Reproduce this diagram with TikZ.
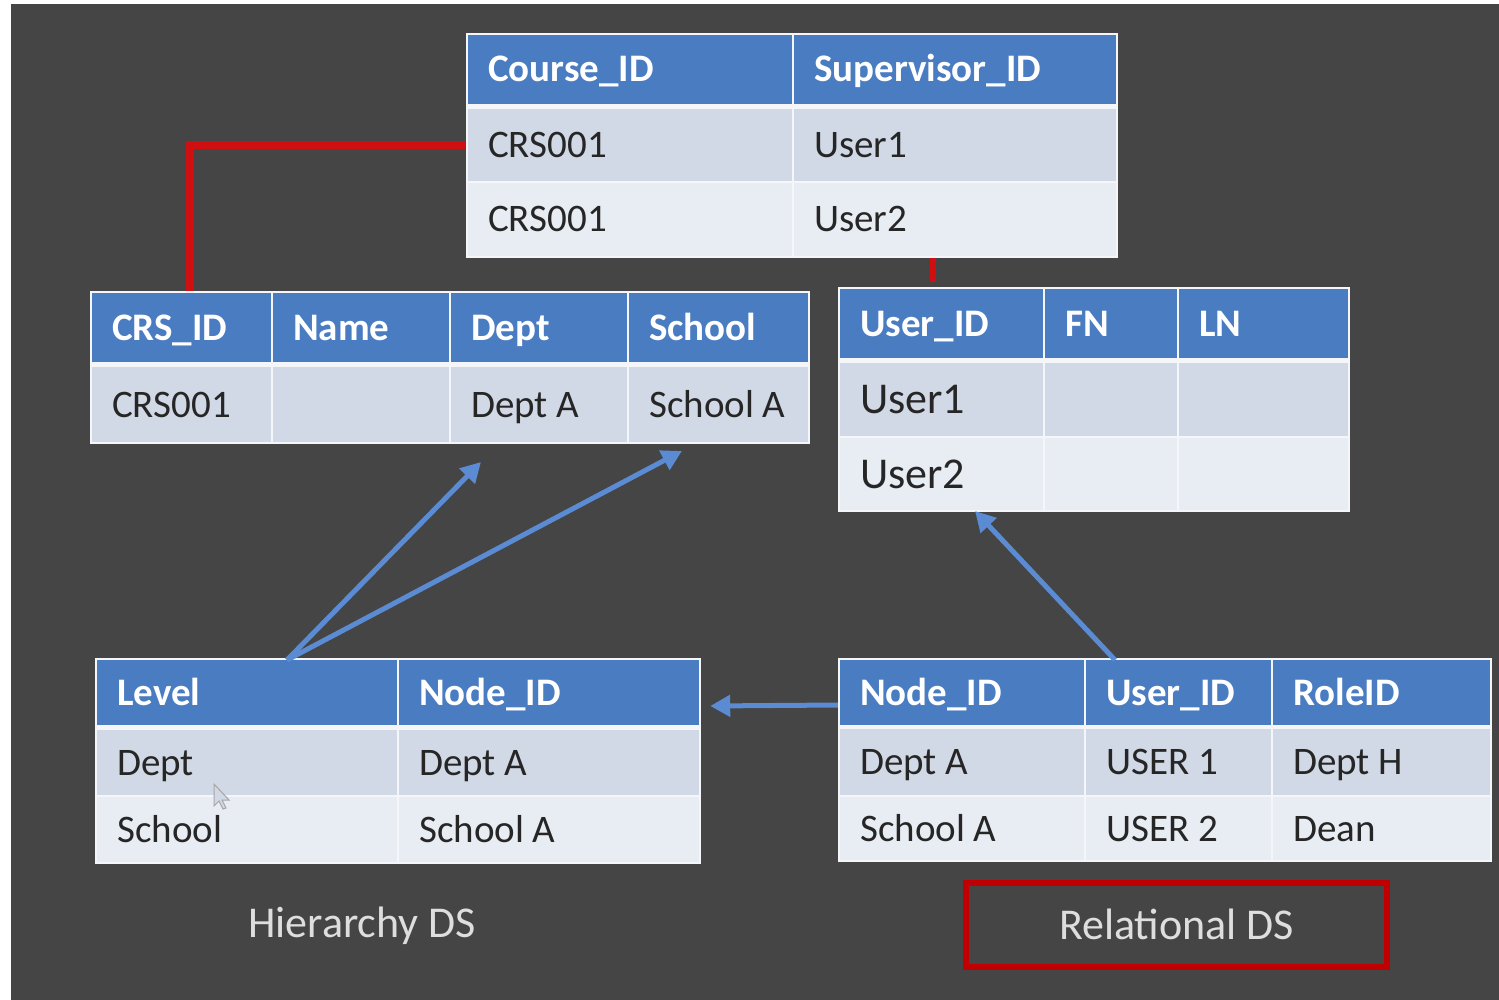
\documentclass[tikz,border=0pt]{standalone}
\usepackage{fontspec}
\setmainfont{Carlito}
\usetikzlibrary{arrows.meta,calc}
\definecolor{bg}{HTML}{444544}
\definecolor{hdr}{HTML}{4A7CC1}
\definecolor{rowa}{HTML}{D2D9E6}
\definecolor{rowb}{HTML}{E8ECF3}
\definecolor{arrblue}{HTML}{5A8BD3}
\definecolor{lnred}{HTML}{D01010}
\definecolor{boxred}{HTML}{C00000}
\definecolor{tblback}{HTML}{F4F6FA}
\newcommand\cell[8]{%
  \fill[#1] (#4,#6) rectangle (#5,#7);
  \node[#2] (#3) at ({#4+20},{(#6+#7)/2}) {#8};}
\begin{document}
\begin{tikzpicture}[x=1pt,y=-1pt,
  hd/.style={fill=hdr}, ra/.style={fill=rowa}, rb/.style={fill=rowb},
  htxt/.style={anchor=west, inner sep=0pt, text=white, font=\fontsize{39}{44}\selectfont\bfseries, text height=30pt, text depth=5pt},
  btxt/.style={anchor=west, inner sep=0pt, text=black!85, font=\fontsize{39}{44}\selectfont, text height=30pt, text depth=5pt},
  btxtL/.style={anchor=west, inner sep=0pt, text=black!85, font=\fontsize{44}{50}\selectfont, text height=33pt, text depth=5pt},
  tbl/.style={fill=tblback, inner sep=0pt, draw=none},
  blarrow/.style={draw=arrblue, line width=5pt, -{Triangle[length=20pt,width=21pt]}},
  redln/.style={draw=lnred, line width=8pt},
  redtick/.style={draw=lnred, line width=6pt},
  lbl/.style={text=white!87!black, font=\fontsize{44}{50}\selectfont, text height=33pt, text depth=5pt, inner sep=0pt}
]
\useasboundingbox (0,0) rectangle (1499,1000);
\fill[white] (0,0) rectangle (1499,1000);
\fill[bg] (11,4) rectangle (1499,1000);

% Course table
\node[tbl, minimum width=652pt, minimum height=225pt] (course) at (792,145.5) {};
\cell{hd}{htxt}{h11}{468}{792}{35}{104}{Course\_ID}
\cell{hd}{htxt}{h12}{794}{1116}{35}{104}{Supervisor\_ID}
\cell{ra}{btxt}{c11}{468}{792}{109}{181}{CRS001}
\cell{ra}{btxt}{c12}{794}{1116}{109}{181}{User1}
\cell{rb}{btxt}{c21}{468}{792}{183}{256}{CRS001}
\cell{rb}{btxt}{c22}{794}{1116}{183}{256}{User2}

% CRS table
\node[tbl, minimum width=720pt, minimum height=153pt] (crs) at (450,367.5) {};
\cell{hd}{htxt}{h21}{92}{271}{293}{362}{CRS\_ID}
\cell{hd}{htxt}{h22}{273}{449}{293}{362}{Name}
\cell{hd}{htxt}{h23}{451}{627}{293}{362}{Dept}
\cell{hd}{htxt}{h24}{629}{808}{293}{362}{School}
\cell{ra}{btxt}{d21}{92}{271}{367}{442}{CRS001}
\cell{ra}{btxt}{d22}{273}{449}{367}{442}{}
\cell{ra}{btxt}{d23}{451}{627}{367}{442}{Dept A}
\cell{ra}{btxt}{d24}{629}{808}{367}{442}{School A}

% User table
\node[tbl, minimum width=512pt, minimum height=225pt] (usr) at (1094,399.5) {};
\cell{hd}{htxt}{h31}{840}{1043}{289}{358}{User\_ID}
\cell{hd}{htxt}{h32}{1045}{1177}{289}{358}{FN}
\cell{hd}{htxt}{h33}{1179}{1348}{289}{358}{LN}
\cell{ra}{btxtL}{u11}{840}{1043}{363}{436}{User1}
\cell{ra}{btxtL}{u12}{1045}{1177}{363}{436}{}
\cell{ra}{btxtL}{u13}{1179}{1348}{363}{436}{}
\cell{rb}{btxtL}{u21}{840}{1043}{438}{510}{User2}
\cell{rb}{btxtL}{u22}{1045}{1177}{438}{510}{}
\cell{rb}{btxtL}{u23}{1179}{1348}{438}{510}{}

% Level table
\node[tbl, minimum width=606pt, minimum height=206pt] (lvl) at (398,761) {};
\cell{hd}{htxt}{h41}{97}{397}{660}{725}{Level}
\cell{hd}{htxt}{h42}{399}{699}{660}{725}{Node\_ID}
\cell{ra}{btxt}{l11}{97}{397}{730}{795}{Dept}
\cell{ra}{btxt}{l12}{399}{699}{730}{795}{Dept A}
\cell{rb}{btxt}{l21}{97}{397}{797}{862}{School}
\cell{rb}{btxt}{l22}{399}{699}{797}{862}{School A}

% Node table
\node[tbl, minimum width=654pt, minimum height=204pt] (nid) at (1165,760) {};
\cell{hd}{htxt}{h51}{840}{1084}{660}{725}{Node\_ID}
\cell{hd}{htxt}{h52}{1086}{1271}{660}{725}{User\_ID}
\cell{hd}{htxt}{h53}{1273}{1490}{660}{725}{RoleID}
\cell{ra}{btxt}{n11}{840}{1084}{729}{795}{Dept A}
\cell{ra}{btxt}{n12}{1086}{1271}{729}{795}{USER 1}
\cell{ra}{btxt}{n13}{1273}{1490}{729}{795}{Dept H}
\cell{rb}{btxt}{n21}{840}{1084}{797}{860}{School A}
\cell{rb}{btxt}{n22}{1086}{1271}{797}{860}{USER 2}
\cell{rb}{btxt}{n23}{1273}{1490}{797}{860}{Dean}

% mouse cursor
\draw[gray!70, line width=1pt, fill=rowa] (214,784) -- (214,806) -- (219,801) -- (223,809) -- (226,808) -- (222,800) -- (229,800) -- cycle;

% red connectors
\coordinate (redx) at (190,0);
\coordinate (tickx) at (933,0);
\draw[redln] (course.west |- c11) -| (redx |- crs.north);
\draw[redtick] (course.south -| tickx) -- ([yshift=5pt]usr.north -| tickx);

% blue arrows
\coordinate (hsrc) at (287,660);
\coordinate (tdept) at (481,462);
\coordinate (tschool) at (682,451);
\coordinate (rsrc) at (1115,660);
\coordinate (tuser) at (975,511);
\draw[blarrow] (hsrc) -- (tdept);
\draw[blarrow] (hsrc) -- (tschool);
\draw[blarrow] (rsrc) -- (tuser);
\draw[blarrow] ([yshift=55pt]nid.west) -- ([yshift=55pt,xshift=9pt]lvl.east);

% labels
\node[lbl] (hier) at (362,923) {Hierarchy DS};
\node[lbl, draw=boxred, line width=6pt, minimum width=421pt, minimum height=84pt] (rel) at (1176.5,925) {Relational DS};
\end{tikzpicture}
\end{document}
